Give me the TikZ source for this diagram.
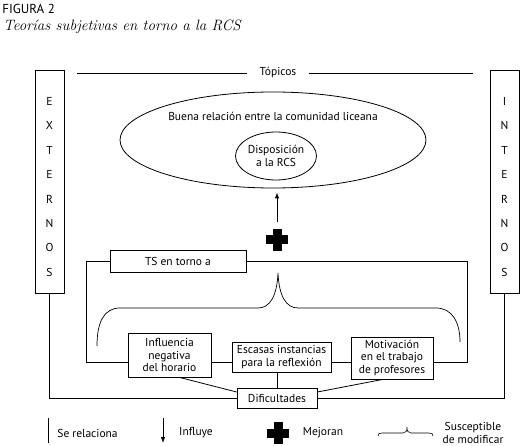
\documentclass[tikz,border=0pt]{standalone}
\usepackage{fontspec}
\setsansfont{PT Sans}
\usetikzlibrary{shapes.geometric,arrows.meta}
\tikzset{
  lbl/.style={font=\sffamily\fontsize{11.5}{12.5}\selectfont, inner sep=1pt},
  box/.style={draw, lbl, align=center, inner sep=0pt},
  vbox/.style={draw, inner sep=0pt, minimum width=29pt, minimum height=223pt},
  vtext/.style={align=center, inner sep=0pt, font=\sffamily\fontsize{11.5}{24.4}\selectfont},
  arr/.style={-{Latex[length=6pt,width=4.5pt]}},
  plusshape/.style={minimum size=22pt, inner sep=0pt,
     path picture={\fill[black] ([xshift=-4.5pt]path picture bounding box.north) rectangle ([xshift=4.5pt]path picture bounding box.south);
                   \fill[black] ([yshift=4.5pt]path picture bounding box.west) rectangle ([yshift=-4.5pt]path picture bounding box.east);}},
}
\begin{document}
\begin{tikzpicture}[x=1pt,y=-1pt,line width=0.8pt]
\useasboundingbox (0,0) rectangle (522,446);
% heading
\node[anchor=west, font=\sffamily\fontsize{13}{15}\selectfont, inner sep=0pt] (fig) at (2,9) {FIGURA 2};
\node[anchor=west, font=\rmfamily\itshape\fontsize{15}{17}\selectfont, inner sep=0pt] (title) at (3,27) {Teorías subjetivas en torno a la RCS};
% side boxes
\node[vbox] (ext) at (49.5,181.5) {};
\node[vtext] (extt) at (49.5,187) {E\\X\\T\\E\\R\\N\\O\\S};
\node[vbox] (int) at (504.5,181.5) {};
\node[vtext] (intt) at (504.5,187) {I\\N\\T\\E\\R\\N\\O\\S};
% top line
\node[lbl, inner xsep=12pt] (topicos) at (278,73) {Tópicos};
\coordinate (tl) at (77,73);
\coordinate (tr) at (473,73);
\draw (tl) -- (topicos.west);
\draw (topicos.east) -- (tr);
% ellipses
\node[draw, ellipse, minimum width=306pt, minimum height=96pt, inner sep=0pt] (buena) at (273,140) {};
\node[lbl] (buenat) at (273,116) {Buena relación entre la comunidad liceana};
\node[draw, ellipse, lbl, align=center, minimum width=81pt, minimum height=48pt, inner sep=0pt] (disp) at (276,156) {Disposición\\a la RCS};
% plus and arrow
\node[plusshape] (plus) at (277,240) {};
\draw[arr, shorten <=7pt, shorten >=4pt] (plus.north) -- (plus.north |- buena.south);
% TS box
\node[box, minimum width=136pt, minimum height=22pt] (ts) at (178,261) {TS en torno a};
% brace
\draw[line width=0.7pt] (97,346) .. controls (97,322) and (104,308) .. (120,308) -- (258,308)
  .. controls (270,308) and (277,296) .. (278,273)
  .. controls (279,296) and (286,308) .. (298,308) -- (436,308)
  .. controls (452,308) and (460,322) .. (460,342);
% lower boxes
\node[box, minimum width=83pt, minimum height=44pt] (infl) at (169.5,355) {Influencia\\negativa\\del horario};
\node[box, minimum width=99pt, minimum height=30pt, font=\sffamily\fontsize{11.5}{13}\selectfont] (esc) at (281.5,357) {Escasas instancias\\para la reflexión};
\node[box, minimum width=82pt, minimum height=42pt] (moti) at (392,358) {Motivación\\en el trabajo\\de profesores};
\node[box, minimum width=80pt, minimum height=20pt] (dif) at (277,398) {Dificultades};
% connections
\coordinate (lc) at (86,362);
\coordinate (rc) at (467,362);
\draw (ts.west) -| (lc) -- (infl.west |- lc);
\draw (ts.east) -| (rc) -- (moti.east |- rc);
\draw (infl.east |- lc) -- (esc.west |- lc);
\draw (esc.east |- lc) -- (moti.west |- lc);
\draw (dif.north) -- (dif.north |- esc.south);
\draw (ext.south) |- (dif.west);
\draw (int.south) |- (dif.east);
\draw ([xshift=10pt]infl.south) -- ([yshift=6pt]dif.west);
\draw ([xshift=-9pt]moti.south) -- ([yshift=6pt]dif.east);
% legend
\coordinate (l1a) at (48,418);
\coordinate (l1b) at (48,443);
\draw (l1a) -- (l1b);
\node[lbl, anchor=west] (selr) at (56,433) {Se relaciona};
\coordinate (l2a) at (163,418);
\coordinate (l2b) at (163,443);
\draw[arr] (l2a) -- (l2b);
\node[lbl] (infly) at (196,433) {Influye};
\node[plusshape] (plus2) at (278,433) {};
\node[lbl] (mej) at (323,433) {Mejoran};
\draw[line width=0.6pt] (378,436) .. controls (378,434) and (379,433) .. (382,433) -- (403,433)
  .. controls (406,433) and (407,431) .. (407,427)
  .. controls (407,431) and (408,433) .. (411,433) -- (429,433)
  .. controls (432,433) and (433,434) .. (433,436);
\node[lbl, align=center] (susc) at (473,433) {Susceptible\\de modificar};
\end{tikzpicture}
\end{document}
